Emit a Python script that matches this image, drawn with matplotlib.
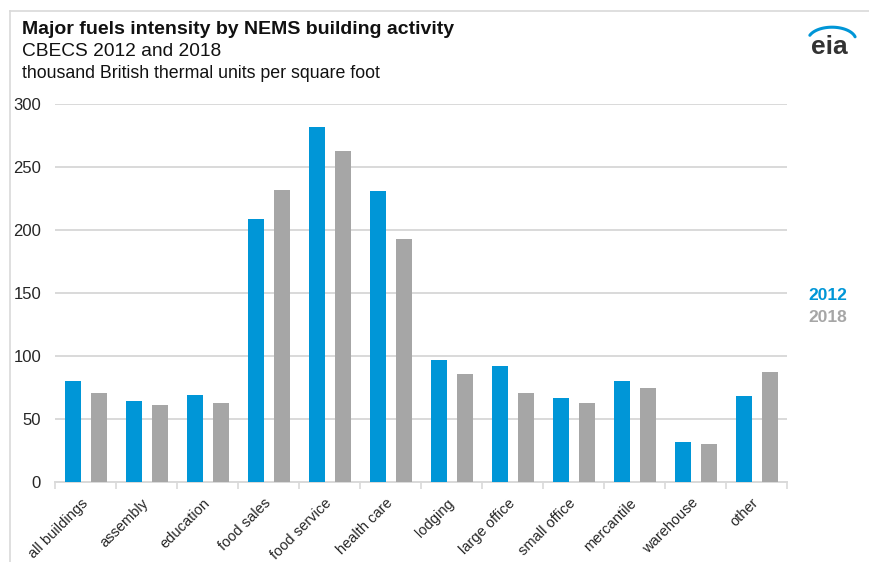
import numpy as np
import matplotlib.pyplot as plt
import matplotlib.transforms as mtransforms
from matplotlib.lines import Line2D

plt.rcParams['font.family'] = ['Liberation Sans', 'DejaVu Sans']

categories = ['all buildings', 'assembly', 'education', 'food sales', 'food service',
              'health care', 'lodging', 'large office', 'small office', 'mercantile',
              'warehouse', 'other']
vals_2012 = [80, 64, 69, 209, 282, 231, 97, 92, 67, 80, 32, 68]
vals_2018 = [71, 61, 63, 232, 263, 193, 86, 71, 63, 75, 30, 87]
yticks = [0, 50, 100, 150, 200, 250, 300]

blue = '#0096D7'
gray = '#A6A6A6'
txt = '#262626'

fig = plt.figure(figsize=(8.69, 5.62), dpi=100)
ax = fig.add_axes([55 / 869, 80 / 562, 732 / 869, 378 / 562])

x = np.arange(len(categories))
ax.bar(x - 0.205, vals_2012, width=0.26, color=blue, zorder=3)
ax.bar(x + 0.22, vals_2018, width=0.26, color=gray, zorder=3)

ax.set_xlim(-0.5, len(categories) - 0.5)
ax.set_ylim(0, 300)
ax.set_yticks(yticks)
ax.set_yticklabels([str(v) for v in yticks], fontsize=12, color=txt)
ax.yaxis.grid(True, color='#D9D9D9', linewidth=1.4, zorder=0)
ax.tick_params(axis='y', length=0, pad=10)

ax.set_xticks(np.arange(len(categories) + 1) - 0.5, minor=False)
ax.set_xticklabels([])
ax.set_xticks(x, minor=True)
ax.set_xticklabels(categories, minor=True, rotation=45, ha='right',
                   rotation_mode='anchor', fontsize=10.5, color=txt)
ax.tick_params(axis='x', which='major', length=5, color='#D9D9D9', width=1.2)
ax.tick_params(axis='x', which='minor', length=0, pad=10)
shift = mtransforms.ScaledTranslation(-5 / 100, 0, fig.dpi_scale_trans)
for lab in ax.xaxis.get_minorticklabels():
    lab.set_transform(lab.get_transform() + shift)

for s in ['top', 'right', 'left']:
    ax.spines[s].set_visible(False)
ax.spines['bottom'].set_color('#D9D9D9')
ax.spines['bottom'].set_linewidth(1.4)

# outer frame (top and left edges only visible)
fig.add_artist(Line2D([10 / 869, 1], [1 - 11 / 562, 1 - 11 / 562], color='#D9D9D9', lw=1.2))
fig.add_artist(Line2D([10 / 869, 10 / 869], [0, 1 - 11 / 562], color='#D9D9D9', lw=1.2))

fig.text(22 / 869, 1 - 30 / 562, 'Major fuels intensity by NEMS building activity',
         fontsize=14, fontweight='bold', color='#111111', va='center')
fig.text(22 / 869, 1 - 51 / 562, 'CBECS 2012 and 2018', fontsize=13.8, color='#111111', va='center')
fig.text(22 / 869, 1 - 73 / 562, 'thousand British thermal units per square foot',
         fontsize=12.8, color='#111111', va='center')

fig.text(808 / 869, 1 - 296 / 562, '2012', fontsize=12.5, fontweight='bold', color=blue, va='center')
fig.text(808 / 869, 1 - 317 / 562, '2018', fontsize=12.5, fontweight='bold', color=gray, va='center')

# eia logo
fig.text(829 / 869, 1 - 47 / 562, 'eia', fontsize=19, fontweight='bold', color='#333333',
         ha='center', va='center')
lax = fig.add_axes([806 / 869, 1 - 40 / 562, 52 / 869, 16 / 562])
t = np.linspace(0.12, 0.92, 50) * np.pi
lax.plot(0.5 - 0.55 * np.cos(t), np.sin(t) * 0.8, color=blue, lw=2.2, solid_capstyle='round')
lax.set_xlim(-0.1, 1.1)
lax.set_ylim(0, 1)
lax.axis('off')

fig.savefig('out.png', dpi=100)
